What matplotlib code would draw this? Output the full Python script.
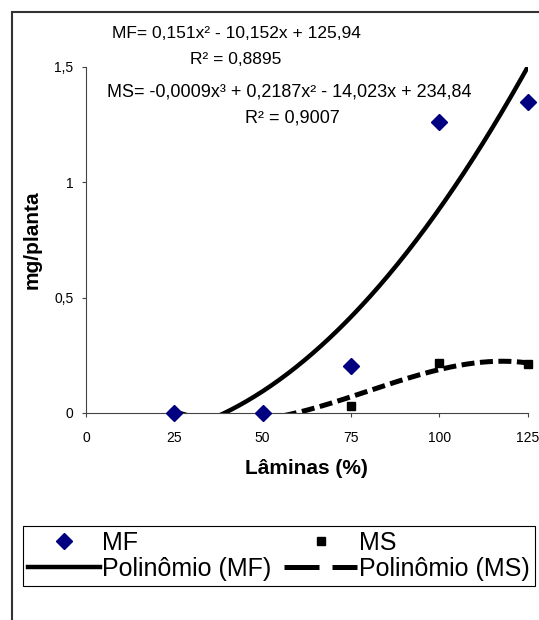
import numpy as np
import matplotlib.pyplot as plt
from matplotlib.lines import Line2D
from matplotlib.patches import Rectangle

plt.rcParams['font.family'] = ['Liberation Sans', 'DejaVu Sans']

# data
laminas = [25, 50, 75, 100, 125]
mf = [0.0, 0.0, 0.205, 1.26, 1.345]
ms = [0.0, 0.0, 0.03, 0.215, 0.21]
x_ticks = [0, 25, 50, 75, 100, 125]
y_ticks = [0, 0.5, 1, 1.5]
y_ticklabels = ['0', '0,5', '1', '1,5']
eq_mf = ['MF= 0,151x² - 10,152x + 125,94', 'R² = 0,8895']
eq_ms = ['MS= -0,0009x³ + 0,2187x² - 14,023x + 234,84', 'R² = 0,9007']

fig = plt.figure(figsize=(5.39, 6.2), dpi=100)
ax = fig.add_axes([86/539, 1-413/620, (527.7-86)/539, (413-66.5)/620])

# polynomial trendlines (like excel), fitted from the points
xs = np.linspace(min(laminas), max(laminas), 300)
fit_mf = np.polyval(np.polyfit(laminas, mf, 2), xs)
fit_ms = np.polyval(np.polyfit(laminas, ms, 3), xs)
ax.plot(xs, fit_mf, color='black', lw=3.2, solid_capstyle='butt')
ax.plot(xs, fit_ms, color='black', lw=3.6, dashes=(2.6, 1.1))

ax.plot(laminas, mf, 'D', color='#000080', ms=8, clip_on=False, zorder=5)
ax.plot(laminas, ms, 's', color='black', ms=5.5, clip_on=False, zorder=4)

ax.set_xlim(0, 125)
ax.set_ylim(0, 1.5)
ax.set_xticks(x_ticks)
ax.set_yticks(y_ticks)
ax.set_yticklabels(y_ticklabels)
for s in ['top', 'right']:
    ax.spines[s].set_visible(False)
for s in ['left', 'bottom']:
    ax.spines[s].set_color('#444444')
    ax.spines[s].set_linewidth(0.8)
ax.tick_params(axis='both', direction='out', length=3, width=0.8, color='#444444', labelsize=10)
ax.tick_params(axis='x', pad=10)
ax.tick_params(axis='y', pad=6)

ax.set_xlabel('Lâminas (%)', fontsize=15, fontweight='bold')
ax.set_ylabel('mg/planta', fontsize=15, fontweight='bold')
ax.xaxis.set_label_coords(0.5, -0.133)
ax.yaxis.set_label_coords(-0.1, 0.5)

# equation labels
fig.text(236/539, 1-33/620, eq_mf[0], fontsize=12.5, ha='center', va='center')
fig.text(236/539, 1-60/620, eq_mf[1], fontsize=12.5, ha='center', va='center')
fig.text(289/539, 1-92/620, eq_ms[0], fontsize=13, ha='center', va='center')
fig.text(292/539, 1-118/620, eq_ms[1], fontsize=13, ha='center', va='center')

handles = [
    Line2D([], [], ls='none', marker='D', color='#000080', ms=8),
    Line2D([], [], color='black', lw=3.2),
    Line2D([], [], ls='none', marker='s', color='black', ms=5.5),
    Line2D([], [], color='black', lw=3.6, dashes=(7, 2.6)),
]
labels = ['MF', 'Polinômio (MF)', 'MS', 'Polinômio (MS)']
leg = ax.legend(handles, labels, ncol=2, loc='upper left',
                bbox_to_anchor=(23/539, 1-526/620), bbox_transform=fig.transFigure,
                borderaxespad=0, fontsize=18, frameon=True, fancybox=False,
                edgecolor='black', framealpha=1, handlelength=2.9,
                handletextpad=0.08, columnspacing=0.5, labelspacing=0.08,
                borderpad=0.2)
leg.get_frame().set_linewidth(0.8)

# outer chart border (only left and top visible in the picture)
fig.patches.append(Rectangle((12/539, -0.1), 1.2, 1.1-12/620, transform=fig.transFigure,
                             fill=False, lw=1.5, ec='#333333'))

fig.savefig('out.png', dpi=100)
